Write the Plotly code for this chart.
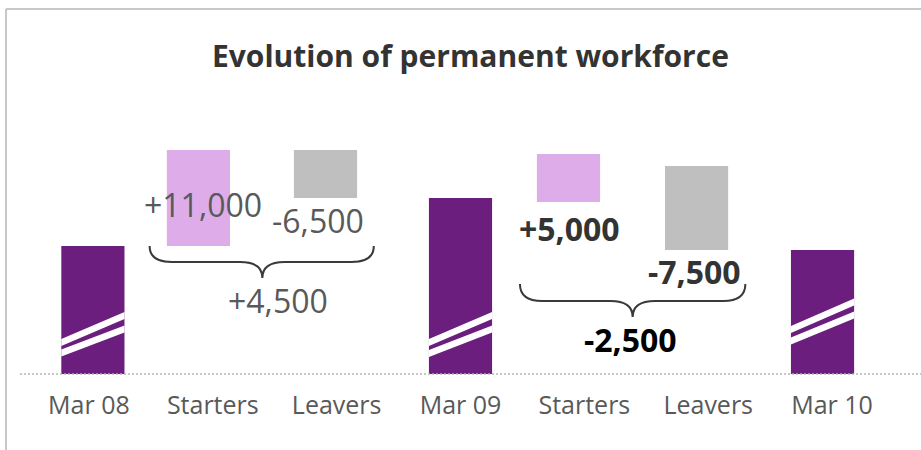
import plotly.graph_objects as go

# ---------------- data ----------------
categories = ["Mar 08", "Starters", "Leavers", "Mar 09", "Starters", "Leavers", "Mar 10"]
# schematic bar extents (display units; totals are axis-broken)
bar_bottom = [0, 128, 176, 0, 172, 124, 0]
bar_top = [128, 224, 224, 176, 220, 208, 124]
bar_kind = ["total", "start", "leave", "total", "start", "leave", "total"]
changes = [11000, -6500, 5000, -7500]
net_changes = [4500, -2500]

# ---------------- style ----------------
PURPLE = "#6B1E7D"
LIGHT = "#DEADE9"
GREY = "#BFBFBF"
TXT = "#595959"
FONT = "Open Sans, Noto Sans, DejaVu Sans, sans-serif"
colors = {"total": PURPLE, "start": LIGHT, "leave": GREY}
bar_shift = [0.032, -0.116, -0.090, 0.0, -0.128, -0.094, -0.077]
bar_w = 0.51

xs = list(range(len(categories)))
heights = [t - b for t, b in zip(bar_top, bar_bottom)]

fig = go.Figure()
fig.add_trace(go.Bar(
    x=xs, y=heights, base=bar_bottom,
    width=bar_w,
    offset=[s - bar_w / 2 for s in bar_shift],
    marker=dict(color=[colors[k] for k in bar_kind], line=dict(width=0)),
    hoverinfo="skip",
))

shapes = []
# axis-break stripes on total bars: (left y, right y) of the two white bands
breaks = {0: [(31.5, 58.5), (21, 45)], 3: [(31.5, 58.5), (20.5, 45)], 6: [(44.5, 72), (33, 59)]}
half = 3.6
for i, bands in breaks.items():
    xl = xs[i] + bar_shift[i] - bar_w / 2
    xr = xs[i] + bar_shift[i] + bar_w / 2
    for yl, yr in bands:
        shapes.append(dict(type="path", xref="x", yref="y",
                           path=f"M {xl},{yl-half} L {xr},{yr-half} L {xr},{yr+half} L {xl},{yl+half} Z",
                           fillcolor="white", line=dict(width=0), layer="above"))

# curly braces
def brace(x0, x1, xt, ytop, yline, ytip, dx=0.18):
    return (f"M {x0},{ytop} Q {x0},{yline} {x0+dx},{yline} L {xt-dx},{yline} "
            f"Q {xt},{yline} {xt},{ytip} Q {xt},{yline} {xt+dx},{yline} "
            f"L {x1-dx},{yline} Q {x1},{yline} {x1},{ytop}")

for b in [(0.49, 2.30, 1.40, 128, 112, 96), (3.48, 5.30, 4.39, 90, 73, 57)]:
    shapes.append(dict(type="path", xref="x", yref="y", path=brace(*b),
                       line=dict(color="#3a3a3a", width=2)))

# baseline (dotted) and frame lines
shapes.append(dict(type="line", xref="paper", yref="paper", x0=-0.008, x1=1.035, y0=0, y1=0,
                   line=dict(color="#b5b5b5", width=1.5, dash="2px,2px")))
shapes.append(dict(type="line", xref="paper", yref="paper", x0=-0.0242, x1=1.04, y0=1.332, y1=1.332,
                   line=dict(color="#c8c8c8", width=2)))
shapes.append(dict(type="line", xref="paper", yref="paper", x0=-0.0242, x1=-0.0242, y0=1.332, y1=-0.3,
                   line=dict(color="#c8c8c8", width=2)))

def fmt(v):
    return ("+" if v > 0 else "-") + f"{abs(v):,}"

ann = []
label_pos = [(0.92, 170, TXT, False), (1.85, 154, TXT, False), (3.88, 146, "#333333", True), (4.89, 102.5, "#333333", True)]
for v, (x, y, c, bold) in zip(changes, label_pos):
    t = fmt(v)
    ann.append(dict(x=x, y=y, xref="x", yref="y", text=f"<b>{t}</b>" if bold else t, showarrow=False,
                    font=dict(family=FONT, size=32, color=c), xanchor="center", yanchor="middle"))
net_pos = [(1.53, 74, TXT, False), (4.37, 34.5, "#000000", True)]
for v, (x, y, c, bold) in zip(net_changes, net_pos):
    t = fmt(v)
    ann.append(dict(x=x, y=y, xref="x", yref="y", text=f"<b>{t}</b>" if bold else t, showarrow=False,
                    font=dict(family=FONT, size=32, color=c), xanchor="center", yanchor="middle"))
ann.append(dict(x=0.5115, y=1.162, xref="paper", yref="paper", showarrow=False,
                text="<b>Evolution of permanent workforce</b>",
                font=dict(family=FONT, size=30, color="#333333"), xanchor="center", yanchor="middle"))

fig.update_layout(
    width=921, height=450,
    margin=dict(l=27, r=27, t=100, b=76, pad=0),
    paper_bgcolor="white", plot_bgcolor="white",
    showlegend=False,
    shapes=shapes, annotations=ann,
    xaxis=dict(range=[-0.5, 6.5], tickvals=xs, ticktext=categories, showgrid=False, zeroline=False,
               showline=False, ticks="", tickfont=dict(family=FONT, size=25, color=TXT), ticklabelstandoff=14),
    yaxis=dict(range=[0, 274], visible=False, showgrid=False, zeroline=False),
)

fig.write_html("out.html", config={"displayModeBar": False},
               post_script="document.body.style.margin='0';document.body.style.padding='0';")
